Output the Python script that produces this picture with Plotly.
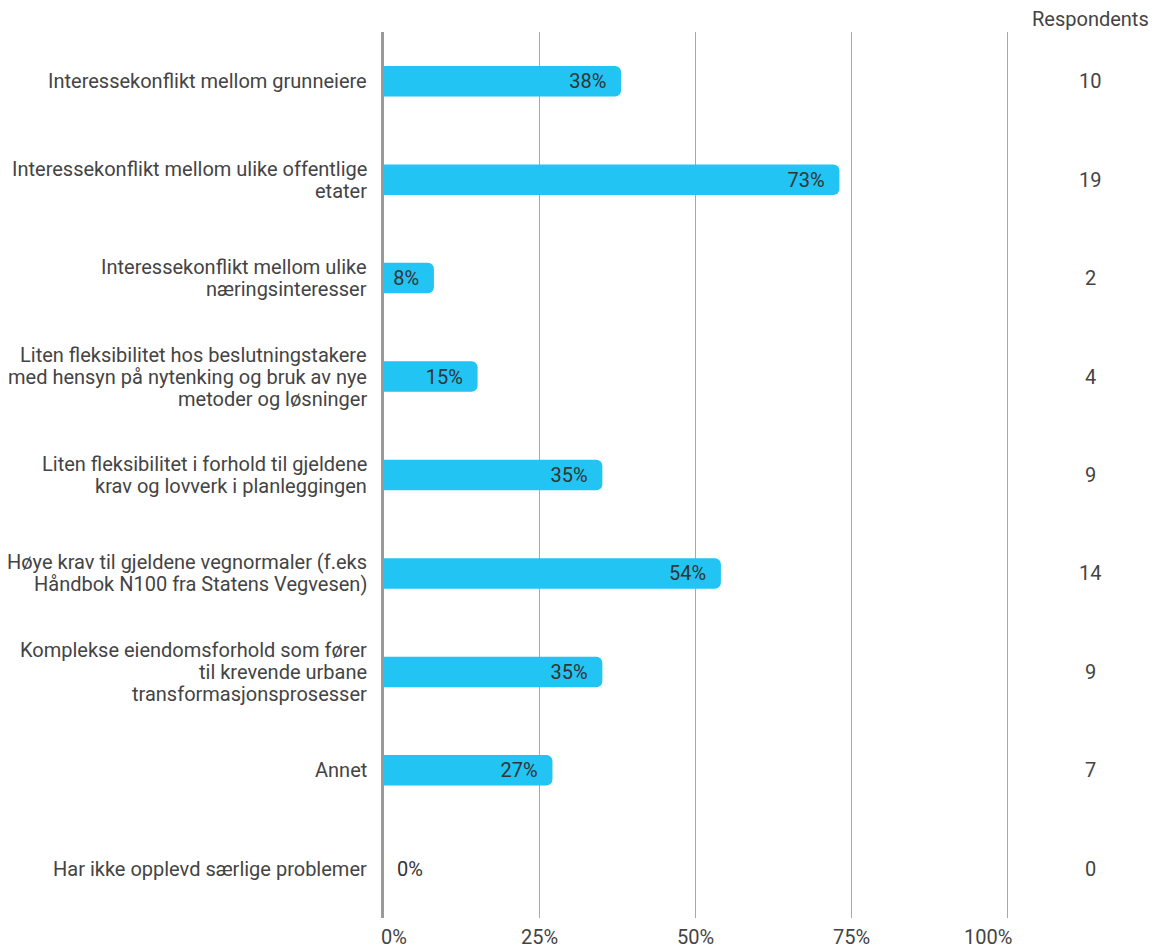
import plotly.graph_objects as go

categories = [
    "Interessekonflikt mellom grunneiere",
    "Interessekonflikt mellom ulike offentlige<br>etater",
    "Interessekonflikt mellom ulike<br>næringsinteresser",
    "Liten fleksibilitet hos beslutningstakere<br>med hensyn på nytenking og bruk av nye<br>metoder og løsninger",
    "Liten fleksibilitet i forhold til gjeldene<br>krav og lovverk i planleggingen",
    "Høye krav til gjeldene vegnormaler (f.eks<br>Håndbok N100 fra Statens Vegvesen)",
    "Komplekse eiendomsforhold som fører<br>til krevende urbane<br>transformasjonsprosesser",
    "Annet",
    "Har ikke opplevd særlige problemer",
]
percent = [38, 73, 8, 15, 35, 54, 35, 27, 0]
respondents = [10, 19, 2, 4, 9, 14, 9, 7, 0]
tick_vals = [0, 25, 50, 75, 100]
tick_text = ["0%", "25%", "50%", "75%", "100%"]

text_color = "#444444"
font_family = "Roboto, Arial, sans-serif"
FS = 20
LINE = 22
X_MAX = 100.5
RESP_X = 1.126  # paper position of the respondents column

NB = "\u00a0"
bar_text = [f"{p}%{NB}{NB}" if p > 0 else f"{NB}{NB}{p}%" for p in percent]

fig = go.Figure()
fig.add_trace(go.Bar(
    y=categories,
    x=percent,
    orientation="h",
    marker=dict(color="#21c4f3", line=dict(width=0)),
    text=bar_text,
    textposition=["inside" if p > 0 else "outside" for p in percent],
    insidetextanchor="end",
    textfont=dict(size=FS, color="#333333", family=font_family),
    cliponaxis=False,
    width=0.31,
    hoverinfo="skip",
))

annotations = []
# category labels, one annotation per line for tighter line spacing
for c in categories:
    lines = c.split("<br>")
    n = len(lines)
    for i, ln in enumerate(lines):
        annotations.append(dict(x=0, y=c, xref="paper", yref="y", text=ln,
                                showarrow=False, xanchor="right", yanchor="middle",
                                xshift=-15, yshift=((n - 1) / 2 - i) * LINE,
                                font=dict(size=FS, color=text_color, family=font_family)))
for c, r in zip(categories, respondents):
    annotations.append(dict(x=RESP_X, y=c, xref="paper", yref="y", text=str(r),
                            showarrow=False, xanchor="center",
                            font=dict(size=FS, color=text_color, family=font_family)))
annotations.append(dict(x=RESP_X, y=1, xref="paper", yref="paper", text="Respondents",
                        showarrow=False, xanchor="center", yanchor="bottom", yshift=-1,
                        font=dict(size=FS, color=text_color, family=font_family)))
shifts = {0: 10, 100: -20}
for v, t in zip(tick_vals, tick_text):
    annotations.append(dict(x=v, y=0, xref="x", yref="paper", text=t,
                            showarrow=False, xanchor="center", yanchor="top",
                            xshift=shifts.get(v, 0), yshift=-6, borderpad=0,
                            font=dict(size=FS, color=text_color, family=font_family)))

fig.update_layout(
    width=1153, height=949,
    margin=dict(l=384, r=142, t=32, b=31),
    paper_bgcolor="white", plot_bgcolor="white",
    barcornerradius=6,
    showlegend=False,
    font=dict(family=font_family, size=FS, color=text_color),
    uniformtext=dict(mode="show", minsize=FS),
    annotations=annotations,
    xaxis=dict(range=[0, X_MAX], tickvals=tick_vals, showticklabels=False,
               showgrid=True, gridcolor="#a8a8a8", gridwidth=1,
               zeroline=False, showline=False, fixedrange=True),
    yaxis=dict(autorange="reversed", showgrid=False, showline=True,
               linecolor="#9a9a9a", linewidth=3, ticks="",
               showticklabels=False, fixedrange=True),
)

fig.write_html("out.html", config={"displayModeBar": False},
               post_script="document.body.style.margin='0';")
